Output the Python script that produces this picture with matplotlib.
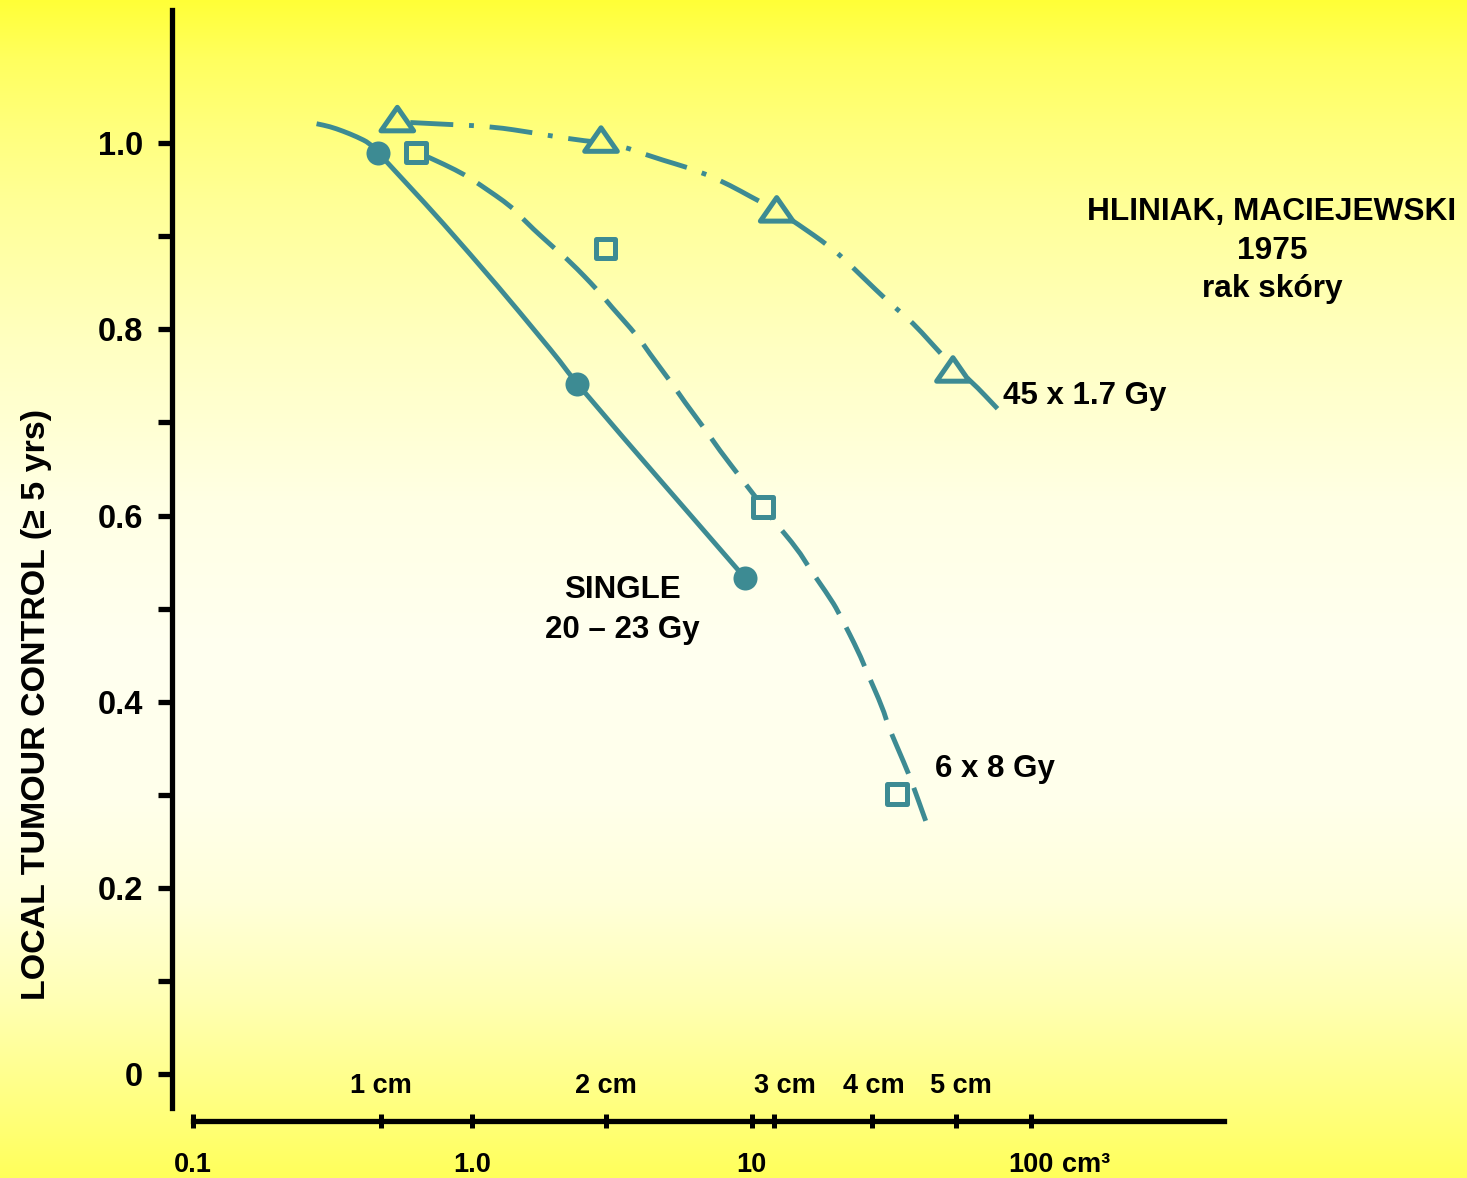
import numpy as np
import matplotlib
matplotlib.use("Agg")
import matplotlib.pyplot as plt
from matplotlib.markers import MarkerStyle
from matplotlib.path import Path
from matplotlib.patches import PathPatch
from matplotlib.ticker import NullFormatter
import matplotlib.transforms as mtrans

plt.rcParams['font.family'] = ['Liberation Sans', 'DejaVu Sans']
plt.rcParams['font.weight'] = 'bold'

# ---------------- data ----------------
# tumour volume (cm^3) vs local tumour control
single_vol = [0.46, 2.37, 9.47]
single_ctrl = [0.990, 0.741, 0.533]
single_curve_vol = [0.277, 0.309, 0.345, 0.386, 0.430, 0.460, 0.598, 0.766, 1.256, 1.747,
                    2.061, 2.371, 9.471]
single_curve_ctrl = [1.021, 1.018, 1.013, 1.007, 1.000, 0.990, 0.953, 0.918, 0.844, 0.792,
                     0.766, 0.741, 0.533]

six_vol = [0.629, 3.00, 10.96, 33.1]
six_ctrl = [0.990, 0.887, 0.609, 0.301]
six_curve_vol = [0.629, 0.799, 0.942, 1.048, 1.399, 1.544, 2.005, 2.238, 2.818, 3.112,
                 3.930, 4.267, 5.245, 5.694, 6.998, 7.599, 9.393, 10.96, 11.96, 14.70,
                 15.96, 19.36, 20.73, 24.30, 25.68, 29.61, 30.71, 35.42, 37.43, 42.01]
six_curve_ctrl = [0.991, 0.977, 0.966, 0.957, 0.931, 0.916, 0.885, 0.873, 0.842, 0.826,
                  0.792, 0.776, 0.740, 0.724, 0.688, 0.672, 0.636, 0.610, 0.595, 0.563,
                  0.545, 0.509, 0.493, 0.452, 0.434, 0.392, 0.375, 0.332, 0.314, 0.272]

fract_vol = [0.539, 2.89, 12.3, 52.6]
fract_ctrl = [1.026, 1.004, 0.929, 0.757]
fract_curve_vol = [0.539, 0.855, 1.176, 1.677, 2.293, 3.298, 4.327, 6.536, 8.485, 9.870,
                   12.30, 14.51, 19.09, 21.73, 24.44, 31.30, 35.62, 40.09, 50.60, 60.53, 77.53]
fract_curve_ctrl = [1.023, 1.020, 1.018, 1.011, 1.004, 0.999, 0.986, 0.970, 0.954, 0.943,
                    0.928, 0.914, 0.889, 0.874, 0.859, 0.828, 0.814, 0.799, 0.765, 0.746, 0.712]

y_major = [0, 0.2, 0.4, 0.6, 0.8, 1.0]
y_major_labels = ['0', '0.2', '0.4', '0.6', '0.8', '1.0']
y_minor = [0.1, 0.3, 0.5, 0.7, 0.9]
x_major = [0.1, 1.0, 10, 100]
x_major_labels = ['0.1', '1.0', '10', '100']
cm_vol = [0.47, 3.0, 12.0, 27.0, 54.0]
cm_labels = ['1 cm', '2 cm', '3 cm', '4 cm', '5 cm']

# ---------------- style ----------------
W, H = 1467, 1178
DPI = 100
TEAL = '#3d8b93'

fig = plt.figure(figsize=(W / DPI, H / DPI), dpi=DPI)

# background gradient (vertical)
stops_y = np.array([0, 60, 130, 200, 350, 500, 650, 800, 900, 1000, 1100, 1178])
stops_b = np.array([55, 95, 125, 150, 195, 228, 240, 235, 218, 180, 130, 90])


def bg_rgb(ypix_top):
    b = np.interp(ypix_top, stops_y, stops_b)
    return (1.0, 1.0, b / 255.0)


yy = np.arange(H)
grad = np.zeros((H, 2, 3))
grad[:, :, 0] = 1.0
grad[:, :, 1] = 1.0
grad[:, :, 2] = (np.interp(yy, stops_y, stops_b) / 255.0)[:, None]
bax = fig.add_axes([0, 0, 1, 1])
bax.imshow(grad, aspect='auto', extent=[0, 1, 0, 1], interpolation='bilinear')
bax.set_axis_off()

# main axes
left_px, right_px, top_px, bot_px = 171.7, 1223.8, 10, 1121
ax = fig.add_axes([left_px / W, 1 - bot_px / H, (right_px - left_px) / W, (bot_px - top_px) / H])
ax.patch.set_alpha(0)
ax.set_xscale('log')
ax.set_xlim(0.0839, 490.6)
ax.set_ylim(-0.0505, 1.1432)

for s in ['top', 'right']:
    ax.spines[s].set_visible(False)
ax.spines['left'].set_linewidth(3.8)
ax.spines['bottom'].set_linewidth(3.8)
ax.spines['left'].set_bounds(-0.0365, 1.1432)
ax.spines['bottom'].set_bounds(0.1, 490.6)

ax.set_yticks(y_major)
ax.set_yticklabels(y_major_labels)
ax.set_yticks(y_minor, minor=True)
ax.tick_params(axis='y', which='both', direction='out', length=10, width=3.8, pad=10.5,
               labelsize=23.5)
ax.set_xticks(x_major)
ax.set_xticklabels([])
ax.set_xticks(cm_vol, minor=True)
ax.xaxis.set_minor_formatter(NullFormatter())
ax.tick_params(axis='x', which='both', direction='inout', length=10, width=3.6,
               labelbottom=False)
for lab in ax.get_yticklabels():
    lab.set_fontweight('bold')

ax.set_ylabel('LOCAL TUMOUR CONTROL (≥ 5 yrs)', fontsize=24.5, fontweight='bold', labelpad=0)
ax.yaxis.set_label_coords((52 - left_px) / (right_px - left_px), (bot_px - 704) / (bot_px - top_px))


# curves: smooth quadratic B-spline path through the read points (display space)
def smooth_patch(xs, ys, **kw):
    P = ax.transData.transform(np.column_stack([xs, ys]))
    verts = [P[0], (P[0] + P[1]) / 2]
    codes = [Path.MOVETO, Path.LINETO]
    for i in range(1, len(P) - 1):
        verts += [P[i], (P[i] + P[i + 1]) / 2]
        codes += [Path.CURVE3, Path.CURVE3]
    verts.append(P[-1])
    codes.append(Path.LINETO)
    patch = PathPatch(Path(verts, codes), transform=mtrans.IdentityTransform(),
                      fill=False, edgecolor=TEAL, capstyle='butt', joinstyle='round', **kw)
    ax.add_artist(patch)
    return patch


lw = 3.5
smooth_patch(single_curve_vol, single_curve_ctrl, linewidth=lw, zorder=3)
smooth_patch(six_curve_vol, six_curve_ctrl, linewidth=lw, linestyle=(9.7, (8.85, 3.1)), zorder=3)
smooth_patch(fract_curve_vol, fract_curve_ctrl, linewidth=lw,
             linestyle=(13.68, (8.85, 3.25, 1.0, 3.25)), zorder=3)


def faces(xs, ys):
    pts = ax.transData.transform(np.column_stack([xs, ys]))
    return [bg_rgb(H - p[1]) for p in pts]


tri = MarkerStyle(Path([(-1, -0.72), (1, -0.72), (0, 0.72), (-1, -0.72)],
                       [Path.MOVETO, Path.LINETO, Path.LINETO, Path.CLOSEPOLY]),
                  joinstyle='miter')
sq = MarkerStyle('s', joinstyle='miter')

ax.scatter(single_vol, single_ctrl, s=17.3 ** 2, marker='o', color=TEAL, linewidths=0, zorder=5)
ax.scatter(six_vol, six_ctrl, s=14.2 ** 2, marker=sq, facecolors=faces(six_vol, six_ctrl),
           edgecolors=TEAL, linewidths=3.6, zorder=5)
ax.scatter(fract_vol, fract_ctrl, s=23.5 ** 2, marker=tri, facecolors=faces(fract_vol, fract_ctrl),
           edgecolors=TEAL, linewidths=3.6, zorder=5)

# annotations
fs = 22.5
ax.text(3.44, (1074 - 598.3) / 930.7, 'SINGLE', ha='center', va='baseline', fontsize=fs, fontweight='bold')
ax.text(3.44, (1074 - 638.5) / 930.7, '20 – 23 Gy', ha='center', va='baseline', fontsize=fs, fontweight='bold')
ax.text(79.4, (1074 - 404) / 930.7, '45 x 1.7 Gy', ha='left', va='baseline', fontsize=fs, fontweight='bold')
ax.text(45.4, (1074 - 777) / 930.7, '6 x 8 Gy', ha='left', va='baseline', fontsize=fs, fontweight='bold')

for txt, yb in [('HLINIAK, MACIEJEWSKI', 220), ('1975', 259), ('rak skóry', 297)]:
    fig.text(1272 / W, 1 - yb / H, txt, ha='center', va='baseline', fontsize=22.8, fontweight='bold')

# x-axis labels
bt = mtrans.blended_transform_factory(ax.transData, fig.transFigure)
for v, t in zip(x_major, x_major_labels):
    ax.text(v, 1 - 1171.7 / H, t, transform=bt, ha='center', va='baseline', fontsize=19.5,
            fontweight='bold', clip_on=False)
fig.text(1062 / W, 1 - 1171.7 / H, 'cm³', ha='left', va='baseline', fontsize=19.5, fontweight='bold')

cm_dx = [0, 0, 11, 2, 5]
for v, t, dx in zip(cm_vol, cm_labels, cm_dx):
    tr = bt + mtrans.ScaledTranslation(dx / DPI, 0, fig.dpi_scale_trans)
    ax.text(v, 1 - 1093.3 / H, t, transform=tr, ha='center', va='baseline', fontsize=19.5,
            fontweight='bold', clip_on=False)

fig.savefig('out.png', dpi=DPI)
